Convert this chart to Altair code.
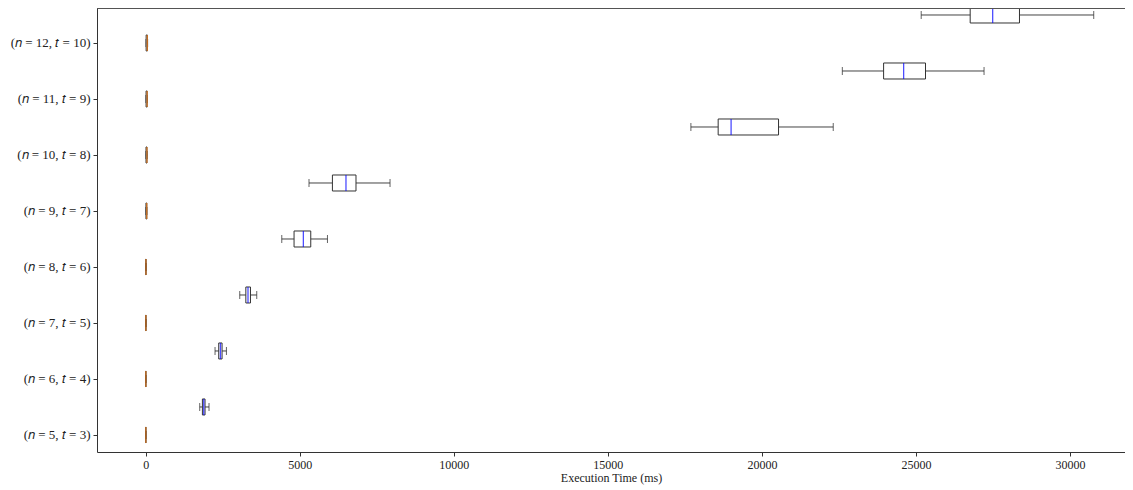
import json
import altair as alt
import pandas as pd

labels = ["(𝑛 = 5, 𝑡 = 3)", "(𝑛 = 6, 𝑡 = 4)", "(𝑛 = 7, 𝑡 = 5)", "(𝑛 = 8, 𝑡 = 6)",
          "(𝑛 = 9, 𝑡 = 7)", "(𝑛 = 10, 𝑡 = 8)", "(𝑛 = 11, 𝑡 = 9)", "(𝑛 = 12, 𝑡 = 10)"]

# series A (orange median, near zero)
a_lo = [2, 2, 3, 3, 4, 5, 6, 8]
a_q1 = [4, 4, 5, 6, 8, 10, 12, 14]
a_med = [5, 5, 6, 8, 34, 40, 46, 52]
a_q3 = [6, 6, 7, 9, 36, 42, 48, 55]
a_hi = [8, 8, 9, 11, 40, 48, 55, 62]

# series B (blue median)
b_lo = [1753, 2250, 3052, 4416, 5300, 17695, 22610, 25170]
b_q1 = [1840, 2370, 3250, 4815, 6060, 18580, 23950, 26760]
b_med = [1883, 2425, 3320, 5117, 6500, 19000, 24600, 27490]
b_q3 = [1925, 2478, 3400, 5357, 6825, 20540, 25310, 28360]
b_hi = [2055, 2620, 3604, 5899, 7930, 22315, 27210, 30770]

rows = []
for i, lab in enumerate(labels):
    rows.append(dict(label=lab, series="A", pos=i + 1, lo=a_lo[i], q1=a_q1[i],
                     med=a_med[i], q3=a_q3[i], hi=a_hi[i]))
    rows.append(dict(label=lab, series="B", pos=i + 1.5, lo=b_lo[i], q1=b_q1[i],
                     med=b_med[i], q3=b_q3[i], hi=b_hi[i]))
df = pd.DataFrame(rows)

W, H = 1028, 444
FONT = "Liberation Serif"

xscale = alt.Scale(domain=[-1581, 31785], nice=False, zero=False, padding=0)
yscale = alt.Scale(domain=[0.696, 8.625], nice=False, zero=False, padding=0)

label_expr = ("datum.value % 1 == 0 ? " + json.dumps(labels, ensure_ascii=False)
              + "[datum.value - 1] : ''")

yaxis = alt.Axis(values=[1 + 0.5 * k for k in range(16)], labelExpr=label_expr,
                 title=None, grid=False, tickSize=4, labelPadding=3,
                 labelFont=FONT, labelFontSize=13,
                 labelColor="#222", domainColor="#333", tickColor="#333")
xaxis = alt.Axis(values=[0, 5000, 10000, 15000, 20000, 25000, 30000], format="d",
                 title="Execution Time (ms)", grid=False, tickSize=4, labelPadding=3,
                 labelFont=FONT, labelFontSize=12, labelColor="#222",
                 titleFont=FONT, titleFontSize=12, titleFontWeight="normal",
                 titleColor="#222", titlePadding=2, domainColor="#333", tickColor="#333")

base = alt.Chart(df)
y = alt.Y("pos:Q", scale=yscale, axis=yaxis)

whisk = base.mark_rule(color="#444", strokeWidth=1).encode(
    x=alt.X("lo:Q", scale=xscale, axis=xaxis), x2="hi:Q", y=y)
cap_lo = base.mark_tick(orient="vertical", size=8, thickness=1, color="#222").encode(
    x="lo:Q", y="pos:Q")
cap_hi = base.mark_tick(orient="vertical", size=8, thickness=1, color="#222").encode(
    x="hi:Q", y="pos:Q")
box = base.mark_bar(orient="horizontal", size=16, fill="white", stroke="#333",
                    strokeWidth=1).encode(x="q1:Q", x2="q3:Q", y="pos:Q")
med = base.mark_tick(orient="vertical", size=16, thickness=1.3).encode(
    x="med:Q", y="pos:Q",
    color=alt.Color("series:N", scale=alt.Scale(domain=["A", "B"],
                                                range=["#ff7f0e", "#0000ff"]),
                    legend=None))
top = alt.Chart(df).mark_rule(color="#555", strokeWidth=1.5).encode(
    x=alt.value(0), x2=alt.value(W), y=alt.value(0))

chart = alt.layer(whisk, cap_lo, cap_hi, box, med, top).properties(
    width=W, height=H,
    autosize=alt.AutoSizeParams(type="none"),
    padding={"left": 89, "top": 0, "right": 0, "bottom": 36},
).configure_view(stroke=None)

chart.save("out.html", embed_options={"renderer": "svg", "actions": False})
